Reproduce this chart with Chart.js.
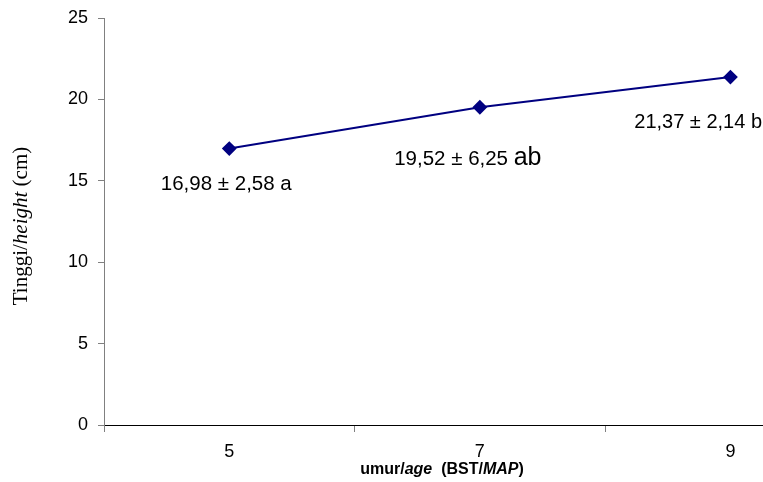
<!DOCTYPE html>
<html>
<head>
<meta charset="utf-8">
<script src="https://cdn.jsdelivr.net/npm/chart.js@4.4.1/dist/chart.umd.min.js"></script>
<style>
html,body{margin:0;padding:0;background:#fff;}
#wrap{width:763px;height:482px;position:relative;}
</style>
</head>
<body>
<div id="wrap"><canvas id="c" width="763" height="482"></canvas></div>
<script>
// ---- data ----
const ages = [5, 7, 9];
const heights = [16.98, 19.52, 21.37];
const meanLabels = ['16,98', '19,52', '21,37'];
const sdLabels = ['2,58', '6,25', '2,14'];
const groupLetters = ['a', 'ab', 'b'];
const yTicks = [0, 5, 10, 15, 20, 25];
const xTickMarks = [4, 6, 8];

const points = ages.map((a, i) => ({x: a, y: heights[i]}));

const SANS = '"Liberation Sans", Arial, sans-serif';
const SERIF = '"Liberation Serif", "Times New Roman", serif';

// label placement (style only)
const labelStyle = [
  {dx: -3, dy: 41, align: 'center', size: 20.5, letterSize: 20.5},
  {dx: -12, dy: 58, align: 'center', size: 20.5, letterSize: 25},
  {dx: -92, dy: 51, align: 'left', size: 20, letterSize: 20}
];

const annotPlugin = {
  id: 'annot',
  afterDraw(chart) {
    const ctx = chart.ctx;
    const xs = chart.scales.x, ys = chart.scales.y;
    ctx.save();
    ctx.fillStyle = '#000';
    ctx.textBaseline = 'alphabetic';
    ages.forEach((a, i) => {
      const st = labelStyle[i];
      const px = xs.getPixelForValue(a), py = ys.getPixelForValue(heights[i]);
      const main = meanLabels[i] + ' \u00b1 ' + sdLabels[i] + ' ';
      ctx.font = st.size + 'px ' + SANS;
      const w1 = ctx.measureText(main).width;
      ctx.font = st.letterSize + 'px ' + SANS;
      const w2 = ctx.measureText(groupLetters[i]).width;
      const total = w1 + w2;
      let x0 = st.align === 'center' ? px + st.dx - total / 2 : px + st.dx;
      if (x0 + total > chart.width - 1) x0 = chart.width - 1 - total;
      const y0 = py + st.dy;
      ctx.textAlign = 'left';
      ctx.font = st.size + 'px ' + SANS;
      ctx.fillText(main, x0, y0);
      ctx.font = st.letterSize + 'px ' + SANS;
      ctx.fillText(groupLetters[i], x0 + w1, y0);
    });

    // y axis title (rich)
    const yParts = [
      {t: 'Tinggi/', f: '21px ' + SERIF},
      {t: 'height', f: 'italic 21px ' + SERIF},
      {t: ' (cm)', f: '21px ' + SERIF}
    ];
    drawRich(ctx, yParts, 27, 226, -Math.PI / 2);

    // x axis title (rich)
    const xParts = [
      {t: 'umur/', f: 'bold 16px ' + SANS},
      {t: 'age', f: 'bold italic 16px ' + SANS},
      {t: '  (BST/', f: 'bold 16px ' + SANS},
      {t: 'MAP', f: 'bold italic 16px ' + SANS},
      {t: ')', f: 'bold 16px ' + SANS}
    ];
    drawRich(ctx, xParts, 442, 474, 0);
    ctx.restore();
  }
};

function drawRich(ctx, parts, cx, cy, rot) {
  ctx.save();
  ctx.translate(cx, cy);
  ctx.rotate(rot);
  let total = 0;
  parts.forEach(p => { ctx.font = p.f; p.w = ctx.measureText(p.t).width; total += p.w; });
  let x = -total / 2;
  ctx.textAlign = 'left';
  ctx.textBaseline = 'alphabetic';
  parts.forEach(p => { ctx.font = p.f; ctx.fillText(p.t, x, 0); x += p.w; });
  ctx.restore();
}

new Chart(document.getElementById('c'), {
  type: 'line',
  data: {
    datasets: [{
      data: points,
      borderColor: '#000080',
      backgroundColor: '#000080',
      borderWidth: 2,
      pointStyle: 'rectRot',
      pointRadius: 6,
      pointHoverRadius: 6,
      pointBackgroundColor: '#000080',
      pointBorderColor: '#000080',
      tension: 0,
      clip: false
    }]
  },
  options: {
    responsive: false,
    animation: false,
    events: [],
    layout: {autoPadding: false, padding: {left: 0, right: 0, top: 18, bottom: 0}},
    plugins: {legend: {display: false}, tooltip: {enabled: false}},
    scales: {
      x: {
        type: 'linear',
        min: 4,
        max: 9.26,
        afterBuildTicks(scale) {
          const t = [];
          xTickMarks.forEach(v => t.push({value: v}));
          ages.forEach(v => t.push({value: v}));
          t.sort((a, b) => a.value - b.value);
          scale.ticks = t;
        },
        afterFit(scale) { scale.height = 57; scale.paddingLeft = 0; scale.paddingRight = 0; },
        border: {display: true, color: '#000', width: 1},
        grid: {
          drawOnChartArea: false,
          drawTicks: true,
          tickLength: 7,
          color: ctx => (ctx.tick && xTickMarks.includes(ctx.tick.value)) ? '#808080' : 'rgba(0,0,0,0)'
        },
        ticks: {
          autoSkip: false,
          maxRotation: 0,
          padding: 9,
          color: '#000',
          font: {family: SANS, size: 18},
          callback: v => ages.includes(v) ? String(v) : ''
        }
      },
      y: {
        min: 0,
        max: 25,
        afterBuildTicks(scale) { scale.ticks = yTicks.map(v => ({value: v})); },
        afterFit(scale) { scale.width = 104; scale.paddingTop = 0; scale.paddingBottom = 0; },
        border: {display: true, color: '#808080', width: 1},
        grid: {drawOnChartArea: false, drawTicks: true, tickLength: 6, color: '#808080'},
        ticks: {
          padding: 10,
          color: '#000',
          font: {family: SANS, size: 18}
        }
      }
    }
  },
  plugins: [annotPlugin]
});
</script>
</body>
</html>
